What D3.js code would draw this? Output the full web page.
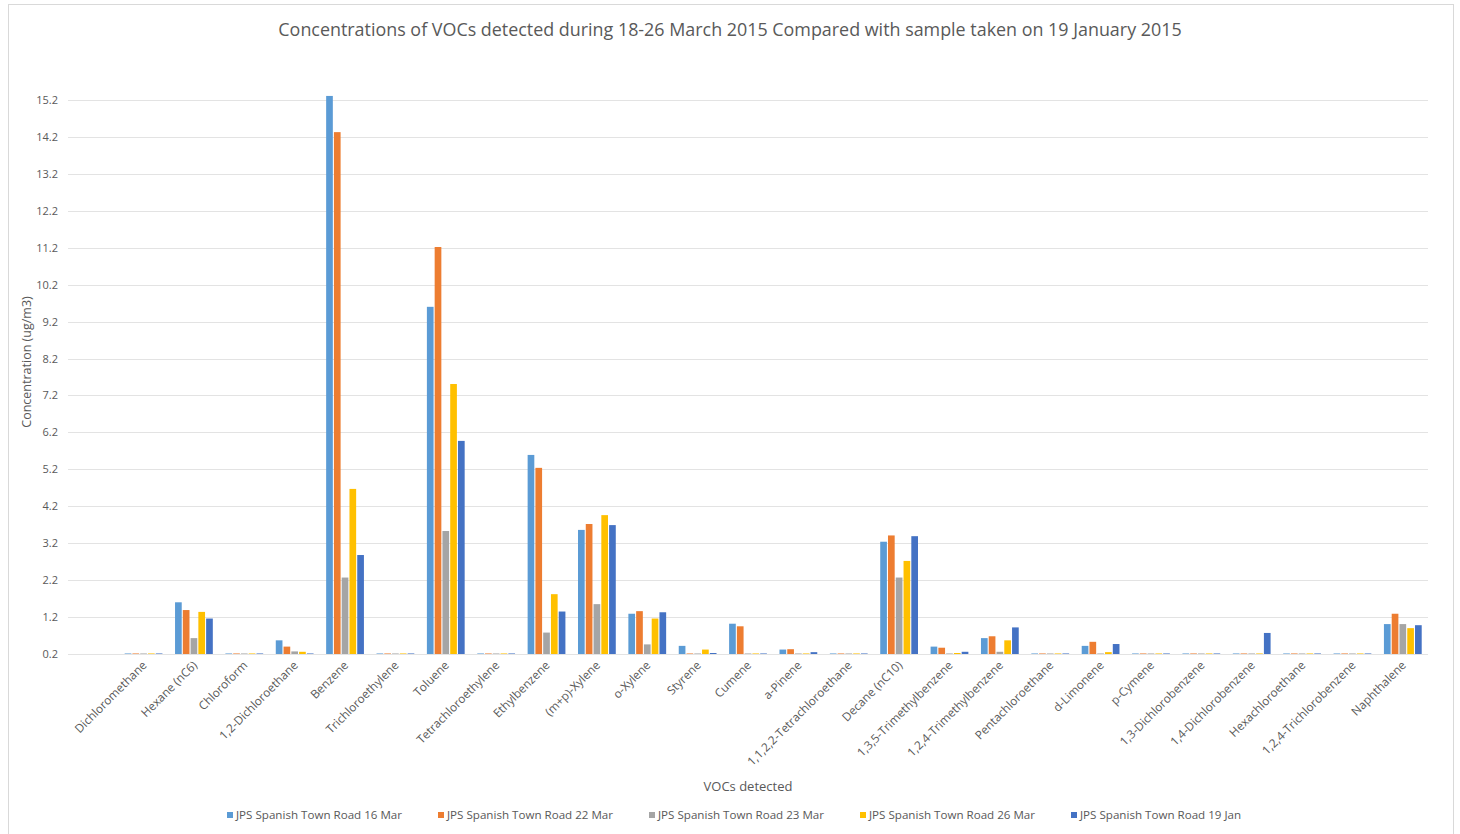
<!DOCTYPE html>
<html>
<head>
<meta charset="utf-8">
<script src="https://cdn.jsdelivr.net/npm/d3@7/dist/d3.min.js"></script>
<style>
  html, body { margin: 0; padding: 0; background: #fff; }
  svg { display: block; }
  text { font-family: "Open Sans", "Noto Sans", sans-serif; fill: #595959; }
</style>
</head>
<body>
<svg id="chart" width="1460" height="834"></svg>
<script>
// VOC species measured
const categories = [
  "Dichloromethane", "Hexane (nC6)", "Chloroform", "1,2-Dichloroethane", "Benzene",
  "Trichloroethylene", "Toluene", "Tetrachloroethylene", "Ethylbenzene", "(m+p)-Xylene",
  "o-Xylene", "Styrene", "Cumene", "a-Pinene", "1,1,2,2-Tetrachloroethane",
  "Decane (nC10)", "1,3,5-Trimethylbenzene", "1,2,4-Trimethylbenzene", "Pentachloroethane",
  "d-Limonene", "p-Cymene", "1,3-Dichlorobenzene", "1,4-Dichlorobenzene",
  "Hexachloroethane", "1,2,4-Trichlorobenzene", "Naphthalene"
];

const seriesNames = [
  "JPS Spanish Town Road 16 Mar",
  "JPS Spanish Town Road 22 Mar",
  "JPS Spanish Town Road 23 Mar",
  "JPS Spanish Town Road 26 Mar",
  "JPS Spanish Town Road 19 Jan"
];

// Concentrations (ug/m3), one array per sample, in category order
const mar16 = [0, 1.60, 0, 0.57, 15.31, 0, 9.60, 0, 5.59, 3.56, 1.29, 0.42, 1.02, 0.32, 0, 3.24, 0.40, 0.63, 0, 0.42, 0, 0, 0, 0, 0, 1.01];
const mar22 = [0, 1.39, 0, 0.40, 14.33, 0, 11.22, 0, 5.24, 3.72, 1.36, 0, 0.95, 0.33, 0, 3.41, 0.37, 0.68, 0, 0.53, 0, 0, 0, 0, 0, 1.29];
const mar23 = [0, 0.63, 0, 0.27, 2.27, 0, 3.53, 0, 0.78, 1.55, 0.46, 0, 0, 0, 0, 2.27, 0, 0.26, 0, 0, 0, 0, 0, 0, 0, 1.01];
const mar26 = [0, 1.34, 0, 0.26, 4.67, 0, 7.51, 0, 1.82, 3.96, 1.16, 0.32, 0, 0, 0, 2.72, 0.21, 0.57, 0, 0.25, 0, 0, 0, 0, 0, 0.90];
const jan19 = [0, 1.16, 0, 0, 2.88, 0, 5.97, 0, 1.35, 3.69, 1.33, 0.22, 0, 0.25, 0, 3.39, 0.26, 0.92, 0, 0.47, 0, 0, 0.77, 0, 0, 0.98];

const seriesValues = [mar16, mar22, mar23, mar26, jan19];
const seriesColors = ["#5B9BD5", "#ED7D31", "#A5A5A5", "#FFC000", "#4472C4"];

const yTicks = [0.2, 1.2, 2.2, 3.2, 4.2, 5.2, 6.2, 7.2, 8.2, 9.2, 10.2, 11.2, 12.2, 13.2, 14.2, 15.2];

const title = "Concentrations of VOCs detected during 18-26 March 2015 Compared with sample taken on 19 January 2015";
const yTitle = "Concentration (ug/m3)";
const xTitle = "VOCs detected";

// ---- layout ----
const svg = d3.select("#chart");
const plot = { left: 68, right: 1428, top: 100, bottom: 654 };
const slot = (plot.right - plot.left) / (categories.length + 1); // one leading empty slot

// chart frame
svg.append("rect")
  .attr("x", 8.5).attr("y", 4.5).attr("width", 1445).attr("height", 840)
  .attr("fill", "#fff").attr("stroke", "#d9d9d9");

const y = d3.scaleLinear().domain([0.2, 15.2]).range([plot.bottom, plot.top]);
const x = d3.scaleBand().domain(categories)
  .range([plot.left + slot, plot.right]).paddingInner(0).paddingOuter(0);

const groupW = x.bandwidth() * 0.75;
const xs = d3.scaleBand().domain(d3.range(seriesValues.length))
  .range([-groupW / 2, groupW / 2]).paddingInner(0.14);

// gridlines
svg.append("g").selectAll("line").data(yTicks).join("line")
  .attr("x1", plot.left).attr("x2", plot.right)
  .attr("y1", d => Math.round(y(d)) + 0.5).attr("y2", d => Math.round(y(d)) + 0.5)
  .attr("stroke", "#e3e3e3").attr("stroke-width", 1);

// y tick labels
const yAxis = d3.axisLeft(y).tickValues(yTicks).tickFormat(d3.format(".1f")).tickSize(0).tickPadding(10);
const yg = svg.append("g").attr("transform", `translate(${plot.left},0)`).call(yAxis);
yg.select(".domain").remove();
yg.selectAll("text").style("font-size", "11px").attr("fill", "#595959")
  .style("font-family", '"Open Sans", sans-serif');

// bars
const groups = svg.append("g").selectAll("g").data(seriesValues).join("g")
  .attr("fill", (d, i) => seriesColors[i]);

groups.each(function (vals, si) {
  d3.select(this).selectAll("rect").data(vals).join("rect")
    .attr("x", (v, ci) => x(categories[ci]) + x.bandwidth() / 2 + xs(si))
    .attr("width", xs.bandwidth())
    .attr("y", v => Math.min(y(Math.max(v, 0.2)), plot.bottom - 1))
    .attr("height", v => Math.max(1, plot.bottom - y(Math.max(v, 0.2))))
    .attr("opacity", v => v <= 0.2 ? 0.55 : 1);
});

// category labels, rotated
svg.append("g").selectAll("text").data(categories).join("text")
  .attr("transform", d => `translate(${x(d) + x.bandwidth() / 2 + 4},${plot.bottom + 12}) rotate(-45)`)
  .attr("text-anchor", "end")
  .style("font-size", "11.8px")
  .text(d => d);

// titles
svg.append("text").attr("x", 730).attr("y", 36).attr("text-anchor", "middle")
  .style("font-size", "17.9px").text(title);

svg.append("text").attr("transform", `translate(31,${(plot.top + plot.bottom) / 2 - 15}) rotate(-90)`)
  .attr("text-anchor", "middle").style("font-size", "12.5px").text(yTitle);

svg.append("text").attr("x", (plot.left + plot.right) / 2).attr("y", 791)
  .attr("text-anchor", "middle").style("font-size", "13px").text(xTitle);

// legend
const legend = svg.append("g").selectAll("g").data(seriesNames).join("g")
  .attr("transform", (d, i) => `translate(${227 + i * 211},816)`);
legend.append("rect").attr("x", 0).attr("y", -4).attr("width", 6).attr("height", 6)
  .attr("fill", (d, i) => seriesColors[i]);
legend.append("text").attr("x", 9).attr("y", 3).style("font-size", "11.6px").text(d => d);
</script>
</body>
</html>
